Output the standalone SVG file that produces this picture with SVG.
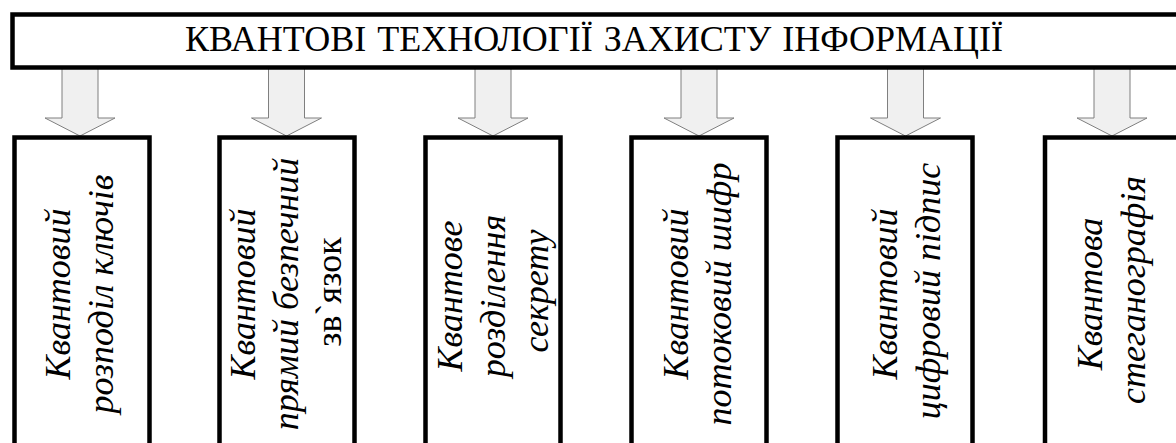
<svg xmlns="http://www.w3.org/2000/svg" width="1176" height="443" viewBox="0 0 1176 443">
<defs>
<path id="arrow" fill="#f0f0f0" stroke="#7f7f7f" stroke-width="1" d="M-18,68 H18 V118 H35 L0,136 L-35,118 H-18 Z"/>
<rect id="box" x="0" y="0" width="135" height="330" fill="#fff" stroke="#000" stroke-width="4.5"/>
</defs>
<rect width="1176" height="443" fill="#fff"/>
<g id="connectors">
<use href="#arrow" x="80"/>
<use href="#arrow" x="286.5"/>
<use href="#arrow" x="493"/>
<use href="#arrow" x="699"/>
<use href="#arrow" x="905.5"/>
<use href="#arrow" x="1112"/>
</g>
<g id="root">
<rect x="12.5" y="14.5" width="1180" height="53" fill="#fff" stroke="#000" stroke-width="4.5"/>
<text x="185" y="51" font-family="Liberation Serif" font-size="36" word-spacing="2">КВАНТОВІ ТЕХНОЛОГІЇ ЗАХИСТУ ІНФОРМАЦІЇ</text>
</g>
<g id="n1">
<use href="#box" x="14.5" y="137.5"/>
<text font-family="Liberation Serif" font-size="36" font-style="italic" text-anchor="middle" transform="translate(70,294) rotate(-90)">Квантовий</text>
<text font-family="Liberation Serif" font-size="36" font-style="italic" text-anchor="middle" transform="translate(113,294) rotate(-90)">розподіл ключів</text>
</g>
<g id="n2">
<use href="#box" x="219.5" y="137.5"/>
<text font-family="Liberation Serif" font-size="36" font-style="italic" text-anchor="middle" transform="translate(255,294) rotate(-90)">Квантовий</text>
<text font-family="Liberation Serif" font-size="36" font-style="italic" text-anchor="middle" transform="translate(298,294) rotate(-90)">прямий безпечний</text>
<text font-family="Liberation Serif" font-size="36" text-anchor="middle" transform="translate(341,292) rotate(-90)">зв`язок</text>
</g>
<g id="n3">
<use href="#box" x="425.5" y="137.5"/>
<text font-family="Liberation Serif" font-size="36" font-style="italic" text-anchor="middle" transform="translate(462,296) rotate(-90)">Квантове</text>
<text font-family="Liberation Serif" font-size="36" font-style="italic" text-anchor="middle" transform="translate(505,296) rotate(-90)">розділення</text>
<text font-family="Liberation Serif" font-size="36" font-style="italic" text-anchor="middle" transform="translate(548,291) rotate(-90)">секрету</text>
</g>
<g id="n4">
<use href="#box" x="631.5" y="137.5"/>
<text font-family="Liberation Serif" font-size="36" font-style="italic" text-anchor="middle" transform="translate(688,294) rotate(-90)">Квантовий</text>
<text font-family="Liberation Serif" font-size="36" font-style="italic" text-anchor="middle" transform="translate(731,294) rotate(-90)">потоковий шифр</text>
</g>
<g id="n5">
<use href="#box" x="837.5" y="137.5"/>
<text font-family="Liberation Serif" font-size="36" font-style="italic" text-anchor="middle" transform="translate(897,294) rotate(-90)">Квантовий</text>
<text font-family="Liberation Serif" font-size="36" font-style="italic" text-anchor="middle" transform="translate(940,291) rotate(-90)">цифровий підпис</text>
</g>
<g id="n6">
<use href="#box" x="1045" y="137.5"/>
<text font-family="Liberation Serif" font-size="36" font-style="italic" text-anchor="middle" transform="translate(1102,294) rotate(-90)">Квантова</text>
<text font-family="Liberation Serif" font-size="36" font-style="italic" text-anchor="middle" transform="translate(1145,290) rotate(-90)">стеганографія</text>
</g>
</svg>
